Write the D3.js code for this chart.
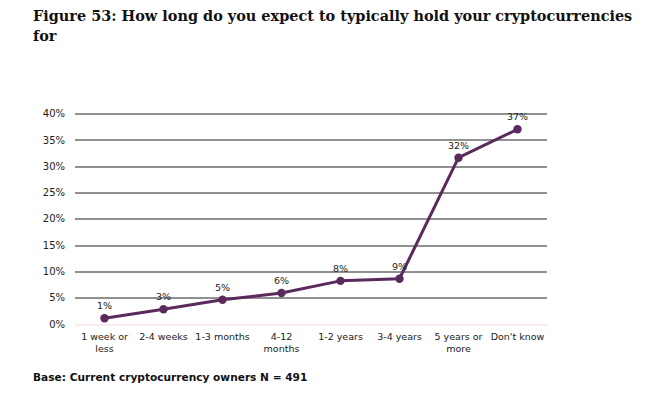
<!DOCTYPE html>
<html>
<head>
<meta charset="utf-8">
<script src="https://cdn.jsdelivr.net/npm/d3@7"></script>
<style>
  body { margin: 0; background: #fff; }
  text { font-family: "DejaVu Sans", Verdana, sans-serif; fill: #222; }
</style>
</head>
<body>
<div id="chart"></div>
<script>
const categories = [
  ["1 week or", "less"],
  ["2-4 weeks"],
  ["1-3 months"],
  ["4-12", "months"],
  ["1-2 years"],
  ["3-4 years"],
  ["5 years or", "more"],
  ["Don't know"],
];
const values = [1.1, 2.8, 4.6, 5.9, 8.2, 8.6, 31.6, 37.0];
const yTicks = [0, 5, 10, 15, 20, 25, 30, 35, 40];

const W = 645, H = 394;
const margin = { top: 113.5, right: 98, bottom: 70, left: 75 };
const width = W - margin.left - margin.right;
const height = H - margin.top - margin.bottom;

const svgRoot = d3.select("#chart").append("svg")
  .attr("width", W)
  .attr("height", H);

// title, sized so the first line spans the same width as the reference
const title1 = svgRoot.append("text")
  .attr("x", 33).attr("y", 21)
  .style("font-family", "'DejaVu Serif', Georgia, serif")
  .style("font-weight", "bold")
  .style("font-size", "16px")
  .style("fill", "#111")
  .text("Figure 53: How long do you expect to typically hold your cryptocurrencies");
const fs = Math.min(16, 16 * 600 / title1.node().getComputedTextLength());
title1.style("font-size", fs + "px");

svgRoot.append("text")
  .attr("x", 33).attr("y", 41)
  .style("font-family", "'DejaVu Serif', Georgia, serif")
  .style("font-weight", "bold")
  .style("font-size", fs + "px")
  .style("fill", "#111")
  .text("for");

const svg = svgRoot.append("g")
  .attr("transform", `translate(${margin.left},${margin.top})`);

const x = d3.scaleBand().domain(d3.range(categories.length)).range([0, width]);
const y = d3.scaleLinear().domain([0, 40]).range([height, 0]);

// gridlines
svg.append("g")
  .selectAll("line")
  .data(yTicks.filter(t => t > 0))
  .join("line")
  .attr("x1", 0).attr("x2", width)
  .attr("y1", d => Math.round(y(d)) + 0.5)
  .attr("y2", d => Math.round(y(d)) + 0.5)
  .attr("stroke", "#222")
  .attr("stroke-width", 1);

svg.append("line")
  .attr("x1", 0).attr("x2", width)
  .attr("y1", Math.round(y(0)) + 0.5).attr("y2", Math.round(y(0)) + 0.5)
  .attr("stroke", "#f2d6de")
  .attr("stroke-width", 1);

// y axis labels
const yAxis = svg.append("g")
  .call(d3.axisLeft(y).tickValues(yTicks).tickFormat(d => d + "%").tickSize(0).tickPadding(10));
yAxis.select(".domain").remove();
yAxis.selectAll("text")
  .style("font-family", "'DejaVu Sans', Verdana, sans-serif")
  .style("font-size", "10px")
  .attr("fill", "#222");

// x axis labels
const xAxis = svg.append("g")
  .attr("transform", `translate(0,${height})`)
  .call(d3.axisBottom(x).tickSize(0).tickFormat(""));
xAxis.select(".domain").remove();
xAxis.selectAll(".tick").each(function (i) {
  const t = d3.select(this).append("text")
    .attr("text-anchor", "middle")
    .style("font-size", "9.5px")
    .attr("y", 16);
  categories[i].forEach((line, k) => {
    t.append("tspan").attr("x", 0).attr("dy", k === 0 ? 0 : 12).text(line);
  });
});

const cx = i => x(i) + x.bandwidth() / 2;
const purple = "#5a2a5c";

svg.append("path")
  .datum(values)
  .attr("fill", "none")
  .attr("stroke", purple)
  .attr("stroke-width", 3)
  .attr("stroke-linejoin", "round")
  .attr("d", d3.line().x((d, i) => cx(i)).y(d => y(d)));

svg.selectAll(".dot")
  .data(values)
  .join("circle")
  .attr("class", "dot")
  .attr("cx", (d, i) => cx(i))
  .attr("cy", d => y(d))
  .attr("r", 4.2)
  .attr("fill", purple);

svg.selectAll(".lbl")
  .data(values)
  .join("text")
  .attr("class", "lbl")
  .attr("x", (d, i) => cx(i))
  .attr("y", d => y(d) - 9)
  .attr("text-anchor", "middle")
  .style("font-size", "9.5px")
  .text(d => Math.round(d) + "%");

svgRoot.append("text")
  .attr("x", 33).attr("y", 381)
  .style("font-weight", "bold")
  .style("font-size", "10.6px")
  .style("fill", "#111")
  .text("Base: Current cryptocurrency owners N = 491");
</script>
</body>
</html>
